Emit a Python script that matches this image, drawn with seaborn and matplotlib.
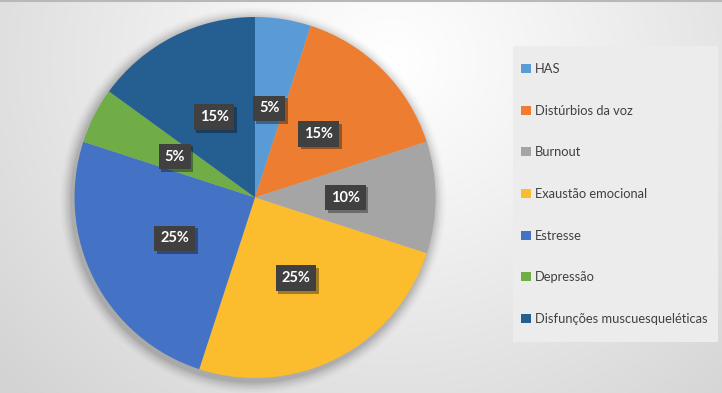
import numpy as np
import matplotlib
matplotlib.use('Agg')
import matplotlib.pyplot as plt
import matplotlib.patheffects as pe
import seaborn as sns
from matplotlib.patches import Rectangle, Circle

# dados
categorias = ['HAS', 'Distúrbios da voz', 'Burnout', 'Exaustão emocional',
              'Estresse', 'Depressão', 'Disfunções muscuesqueléticas']
valores = [5, 15, 10, 25, 25, 5, 15]
cores = ['#5B9BD5', '#ED7D31', '#A5A5A5', '#FBBC2D', '#4472C4', '#70AD47', '#255E91']

sns.set_theme(style='white')
plt.rcParams['font.family'] = ['Lato', 'DejaVu Sans']

W, H = 722, 393
fig = plt.figure(figsize=(W / 100, H / 100), dpi=100)

# fundo com gradiente radial
bg = fig.add_axes([0, 0, 1, 1])
yy, xx = np.mgrid[0:H, 0:W]
d = np.sqrt(((xx - 390) / 1.0) ** 2 + ((yy - 60) / 0.9) ** 2) / 520
d = np.clip(d, 0, 1)
light = 1.0 - 0.17 * d ** 1.1
img = np.dstack([light, light, light])
bg.imshow(img, extent=[0, W, H, 0], aspect='auto')
bg.plot([0, W], [0.8, 0.8], color='#b8b8b8', lw=1.5)
bg.set_xlim(0, W)
bg.set_ylim(H, 0)
bg.axis('off')

# sombra da pizza
cx, cy, r = 255, 197.5, 180.5
for i, a in enumerate(np.linspace(0.05, 0.01, 8)):
    bg.add_patch(Circle((cx - 2, cy + 3), r + 2 + i * 1.5, color='black', alpha=a, lw=0))

# pizza
ax = fig.add_axes([(cx - r) / W, (H - cy - r) / H, 2 * r / W, 2 * r / H])
wedges, _, autotexts = ax.pie(valores, colors=cores, startangle=90, counterclock=False,
                              radius=1, autopct='%1.0f%%', pctdistance=0.5,
                              wedgeprops=dict(linewidth=0))
ax.set_xlim(-1, 1)
ax.set_ylim(-1, 1)
ax.set_aspect('equal')
ax.axis('off')

for t in autotexts:
    t.set_color('white')
    t.set_fontsize(10.5)
    t.set_fontweight('bold')
    t.set_zorder(5)
    t.set_bbox(dict(boxstyle='square,pad=0.4', fc='#404040', ec='none'))
    t.get_bbox_patch().set_path_effects([
        pe.SimplePatchShadow(offset=(2, -2), shadow_rgbFace='black', alpha=0.35),
        pe.Normal()])

# legenda
bg.add_patch(Rectangle((513, 46), 205, 296, color='#ececec', lw=0, zorder=3))
leg = fig.legend(wedges, categorias, loc='upper left',
                 bbox_to_anchor=(515 / W, 1 - 56.5 / H), frameon=False,
                 fontsize=9.3, labelcolor='#404040', handlelength=0.7, handleheight=0.7,
                 handletextpad=0.35, labelspacing=2.3, borderpad=0)

fig.savefig('out.png', dpi=100)
